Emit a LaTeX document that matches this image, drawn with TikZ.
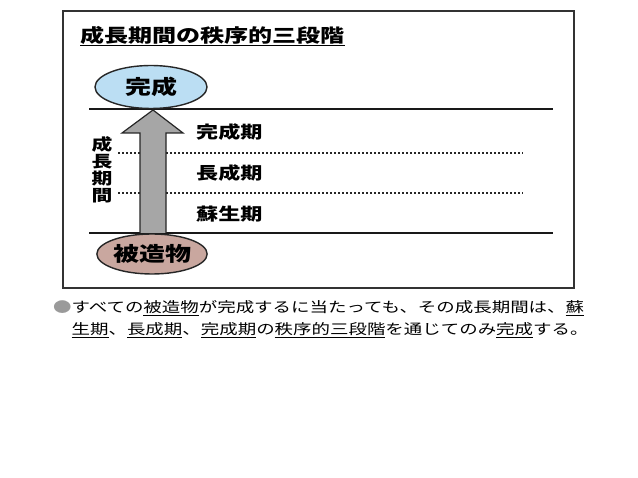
\documentclass[tikz,border=0pt]{standalone}
\usepackage{fontspec}
\setmainfont{Noto Sans CJK JP}[FakeStretch=1.3]
\usepackage{tikz}
\usetikzlibrary{shapes.geometric}
\definecolor{goalblue}{HTML}{BBDEF3}
\definecolor{originrose}{HTML}{C9A79F}
\definecolor{shaftgray}{HTML}{A6A6A6}
\definecolor{bulletgray}{HTML}{9A9A9A}
\newcommand{\ulword}[1]{\underline{#1}}

\begin{document}
\begin{tikzpicture}[x=1pt, y=-1pt,
    stage/.style={font=\fontsize{17}{17}\selectfont\bfseries, inner sep=0pt},
    phase/.style={ellipse, draw=black!85, line width=1.4pt, minimum width=112pt, minimum height=43pt, inner sep=0pt,
                  font=\fontsize{20}{20}\selectfont\bfseries},
    solidline/.style={line width=1.6pt, black!90},
    dotline/.style={line width=2.1pt, black!85, dash pattern=on 2.2pt off 1.8pt}]
  \useasboundingbox (0,0) rectangle (638,478);
  % frame and title
  \draw[line width=1.8pt, black!80] (63,11) rectangle (574,288);
  \node[anchor=west, inner sep=0pt, font=\fontsize{18.5}{18.5}\selectfont\bfseries] (title) at (80,36) {\ulword{成長期間の秩序的三段階}};

  % stage borders
  \coordinate (topL) at (89,109);  \coordinate (topR) at (553,109);
  \coordinate (botL) at (89,233);  \coordinate (botR) at (553,233);
  \coordinate (dotaL) at (118,153); \coordinate (dotaR) at (523,153);
  \coordinate (dotbL) at (118,193); \coordinate (dotbR) at (523,193);
  \draw[solidline] (topL) -- (topR);
  \draw[solidline] (botL) -- (botR);
  \draw[dotline] (dotaL) -- (dotaR);
  \draw[dotline] (dotbL) -- (dotbR);

  \node[stage, anchor=west] (kanseiki) at (196,132) {完成期};
  \node[stage, anchor=west] (choseiki) at (196,173) {長成期};
  \node[stage, anchor=west] (soseiki) at (196,214) {蘇生期};
  \node[stage, align=center, font=\fontsize{16}{17}\selectfont\bfseries] (kikan) at (102,170) {成\\長\\期\\間};

  % growth arrow
  \filldraw[fill=shaftgray, draw=black!85, line width=1.2pt]
    (140,233) -- (140,133) -- (122,133) -- (153,110) -- (183,133) -- (166,133) -- (166,233);

  \node[phase, fill=goalblue] (kansei) at (151,87) {完成};
  \node[phase, fill=originrose, minimum width=108pt, minimum height=40pt] (hizoubutsu) at (152,254) {被造物};

  % caption
  \node[anchor=north west, align=left, inner sep=0pt, font=\fontsize{14.2}{22}\selectfont] (caption) at (53,300)
    {{\color{bulletgray}●}すべての\ulword{被造物}が完成するに当たっても、その成長期間は、\ulword{蘇}\\
     \phantom{●}\ulword{生期}、\ulword{長成期}、\ulword{完成期}の\ulword{秩序的三段階}を通じてのみ\ulword{完成}する。};
\end{tikzpicture}
\end{document}
